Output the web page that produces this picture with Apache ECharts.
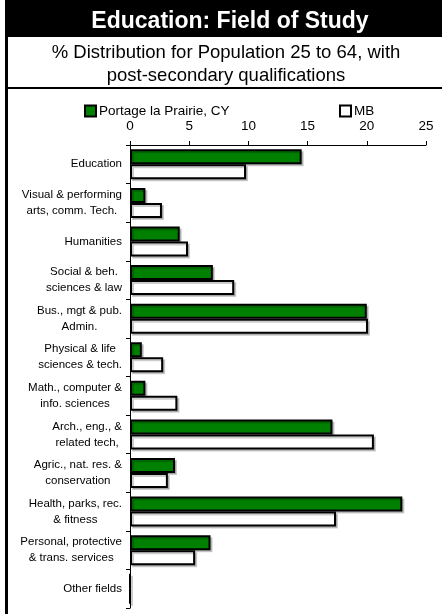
<!DOCTYPE html>
<html>
<head>
<meta charset="utf-8">
<script src="https://cdn.jsdelivr.net/npm/echarts@6/dist/echarts.min.js"></script>
<style>
html,body{margin:0;padding:0;background:#fff;}
#chart{width:442px;height:614px;}
</style>
</head>
<body>
<div id="chart"></div>
<script>
const categories = [
  "Education",
  "Visual & performing\narts, comm. Tech.",
  "Humanities",
  "Social & beh.\nsciences & law",
  "Bus., mgt & pub.\nAdmin.",
  "Physical & life\nsciences & tech.",
  "Math., computer &\ninfo. sciences",
  "Arch., eng., &\nrelated tech,",
  "Agric., nat. res. &\nconservation",
  "Health, parks, rec.\n& fitness",
  "Personal, protective\n& trans. services",
  "Other fields"
];
const portageValues = [14.5, 1.3, 4.2, 7.0, 20.0, 1.0, 1.3, 17.1, 3.8, 23.0, 6.8, 0];
const mbValues      = [9.8, 2.7, 4.9, 8.8, 20.1, 2.8, 4.0, 20.6, 3.2, 17.4, 5.5, 0];
const xTicks = [0, 5, 10, 15, 20, 25];
const seriesNames = ["Portage la Prairie, CY", "MB"];

const FONT = "'Liberation Sans', Arial, sans-serif";
const chart = echarts.init(document.getElementById('chart'), null, {renderer: 'canvas'});

function catLabel(v) {
  return v.split('\n').map(s => '{c|' + s + '}').join('\n');
}

const option = {
  backgroundColor: '#ffffff',
  animation: false,
  textStyle: {fontFamily: FONT, color: '#000'},
  graphic: [
    {type: 'rect', shape: {x: 5, y: 0, width: 437, height: 37}, style: {fill: '#000'}, z: 0},
    {type: 'rect', shape: {x: 5, y: 0, width: 3, height: 614}, style: {fill: '#000'}, z: 0},
    {type: 'rect', shape: {x: 5, y: 87, width: 437, height: 2}, style: {fill: '#000'}, z: 0}
  ],
  title: [
    {
      text: 'Education: Field of Study',
      left: 225, textAlign: 'center', top: 5,
      textStyle: {color: '#fff', fontSize: 23, fontWeight: 'bold', fontFamily: FONT}
    },
    {
      text: '% Distribution for Population 25 to 64, with\npost-secondary qualifications',
      left: 221, textAlign: 'center', top: 36,
      textStyle: {color: '#000', fontSize: 18.5, fontWeight: 'normal', fontFamily: FONT, lineHeight: 23}
    }
  ],
  legend: [
    {
      data: [seriesNames[0]], left: 79, top: 99, itemWidth: 11, itemHeight: 11, itemGap: 4,
      icon: 'rect',
      textStyle: {fontSize: 13.5, color: '#000', fontFamily: FONT, padding: [0, 0, 0, -2]}
    },
    {
      data: [seriesNames[1]], left: 334, top: 99, itemWidth: 11, itemHeight: 11, itemGap: 4,
      icon: 'rect',
      textStyle: {fontSize: 13.5, color: '#000', fontFamily: FONT, padding: [0, 0, 0, -2]}
    }
  ],
  grid: {left: 130, right: 16, top: 145, bottom: 6, containLabel: false},
  xAxis: {
    type: 'value', position: 'top', min: xTicks[0], max: xTicks[xTicks.length - 1], interval: 5,
    axisLine: {show: true, lineStyle: {color: '#000', width: 1}},
    axisTick: {show: true, length: 4, lineStyle: {color: '#000'}},
    axisLabel: {fontSize: 13.5, color: '#000', fontFamily: FONT, margin: 12},
    splitLine: {show: false}
  },
  yAxis: {
    type: 'category', inverse: true, data: categories,
    axisLine: {show: true, lineStyle: {color: '#000', width: 1}},
    axisTick: {show: true, length: 4, lineStyle: {color: '#000'}},
    axisLabel: {
      fontSize: 11.5, color: '#000', fontFamily: FONT, margin: 8, lineHeight: 16,
      formatter: catLabel,
      rich: {c: {align: 'center', fontSize: 11.5, lineHeight: 16, fontFamily: FONT, color: '#000'}}
    },
    splitLine: {show: false}
  },
  series: [
    {
      name: seriesNames[0], type: 'bar', data: portageValues, barWidth: 15, barGap: '0%',
      itemStyle: {color: '#008000', borderColor: '#000', borderWidth: 2,
        shadowColor: 'rgba(0,0,0,0.2)', shadowOffsetX: 2, shadowOffsetY: 2, shadowBlur: 0}
    },
    {
      name: seriesNames[1], type: 'bar', data: mbValues, barWidth: 15, barGap: '0%',
      itemStyle: {color: '#ffffff', borderColor: '#000', borderWidth: 2,
        shadowColor: 'rgba(0,0,0,0.2)', shadowOffsetX: 2, shadowOffsetY: 2, shadowBlur: 0}
    }
  ]
};
chart.setOption(option);
</script>
</body>
</html>
